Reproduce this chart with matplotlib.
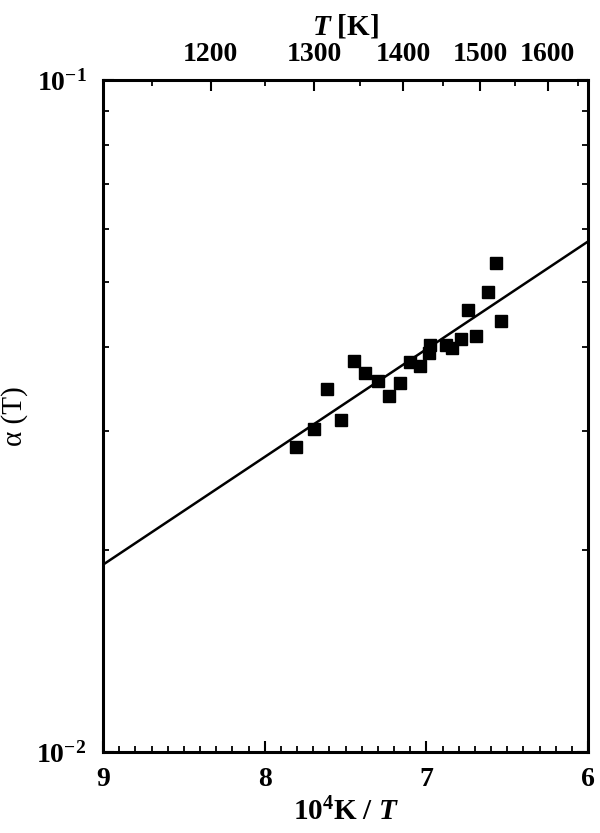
import numpy as np
import matplotlib
matplotlib.use("Agg")
import matplotlib.pyplot as plt
import matplotlib.ticker as mtick

# measured points: 10^4 K / T  vs  alpha(T)
inv_t = [7.808, 7.697, 7.613, 7.528, 7.450, 7.378, 7.301, 7.229, 7.161, 7.103, 7.040,
         6.984, 6.976, 6.879, 6.840, 6.786, 6.741, 6.695, 6.617, 6.571, 6.539]
alpha = [0.02846, 0.03021, 0.03468, 0.03122, 0.03814, 0.03660, 0.03562, 0.03390, 0.03538,
         0.03805, 0.03753, 0.03928, 0.04029, 0.04029, 0.03992, 0.04113, 0.04547, 0.04164,
         0.04842, 0.05347, 0.04384]

# fitted line (end points)
fit_x = [9.0, 6.0]
fit_y = [0.0190, 0.0575]

top_major = [1200, 1300, 1400, 1500, 1600]
top_minor = [1150, 1250, 1350, 1450, 1550, 1650]

plt.rcParams['font.family'] = 'Liberation Serif'
plt.rcParams['mathtext.fontset'] = 'custom'
plt.rcParams['mathtext.rm'] = 'Liberation Serif'
plt.rcParams['mathtext.bf'] = 'Liberation Serif:bold'
plt.rcParams['mathtext.it'] = 'Liberation Serif:italic'
plt.rcParams['mathtext.bfit'] = 'Liberation Serif:italic:bold'

fig = plt.figure(figsize=(6.0, 8.33), dpi=100)
ax = fig.add_axes([0.1717, 0.0972, 0.8083, 0.8068])

ax.plot(fit_x, fit_y, color='black', lw=1.8)
ax.plot(inv_t, alpha, 's', color='black', ms=8)

ax.set_yscale('log')
ax.set_ylim(0.01, 0.1)
ax.set_xlim(9, 6)

ax.xaxis.set_major_locator(mtick.FixedLocator([9, 8, 7, 6]))
ax.xaxis.set_minor_locator(mtick.MultipleLocator(0.1))
ax.xaxis.set_major_formatter(mtick.FuncFormatter(lambda v, p: '%d' % round(v)))
ax.yaxis.set_major_locator(mtick.FixedLocator([0.01, 0.1]))
ax.yaxis.set_minor_locator(mtick.LogLocator(base=10, subs=np.arange(2, 10)))
ax.yaxis.set_minor_formatter(mtick.NullFormatter())
ax.yaxis.set_major_formatter(mtick.FuncFormatter(
    lambda v, p: r'$\mathbf{10^{%d}}$' % round(np.log10(v))))

ax.tick_params(axis='x', which='both', direction='in', top=False, bottom=True)
ax.tick_params(axis='y', which='both', direction='in', left=True, right=True)
ax.tick_params(which='major', length=8, width=1.5, labelsize=20, pad=11)
ax.tick_params(axis='y', which='major', pad=12)
ax.tick_params(which='minor', length=4.5, width=1.3)
for lab in ax.get_xticklabels() + ax.get_yticklabels():
    lab.set_fontweight('bold')
for s in ax.spines.values():
    s.set_linewidth(2.2)

top = ax.secondary_xaxis('top', functions=(lambda v: 1e4 / v, lambda v: 1e4 / v))
top.xaxis.set_major_locator(mtick.FixedLocator(top_major))
top.xaxis.set_minor_locator(mtick.FixedLocator(top_minor))
top.xaxis.set_major_formatter(mtick.FormatStrFormatter('%d'))
top.tick_params(which='both', direction='in')
top.tick_params(which='major', length=8, width=1.5, labelsize=20, pad=9)
top.tick_params(which='minor', length=4.5, width=1.3)
for lab in top.get_xticklabels():
    lab.set_fontweight('bold')
top.set_xlabel(r'$\mathbfit{T}\ \mathbf{[K]}$', fontsize=21, labelpad=6)

ax.set_xlabel(r'$\mathbf{10^4K\ /\ }\mathbfit{T}$', fontsize=21, labelpad=4)
ax.set_ylabel('\u03b1 (T)', fontsize=21, labelpad=6)

fig.savefig('out.png', dpi=100)
